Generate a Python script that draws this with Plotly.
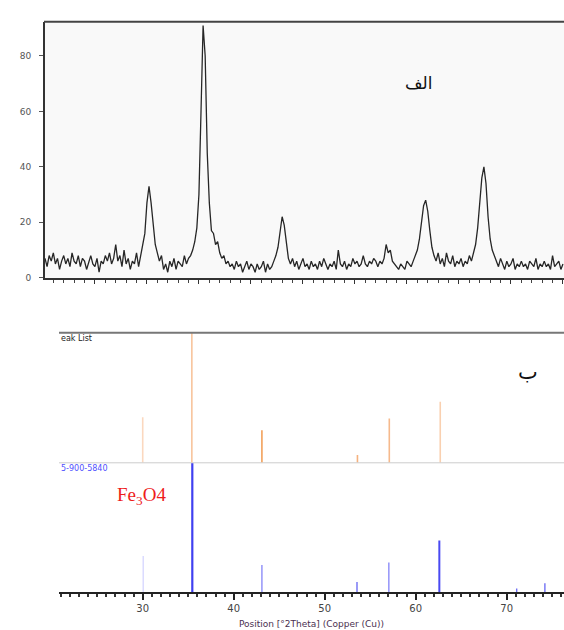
import plotly.graph_objects as go

# ---------------- data ----------------
# top panel: measured XRD pattern (2theta grid start/step, intensity read off the picture)
tt_start = 20.2
tt_step = 0.2
intensity = [
    7, 4, 8, 6, 9, 5, 7, 3, 6, 8,
    5, 7, 4, 9, 6, 5, 8, 4, 7, 6,
    3, 6, 8, 5, 4, 7, 2, 6, 5, 8,
    6, 9, 5, 7, 12, 6, 8, 4, 10, 5,
    7, 3, 6, 5, 9, 4, 8, 11, 16, 27,
    33, 27, 19, 12, 9, 6, 8, 3, 5, 2,
    6, 4, 7, 3, 6, 5, 4, 8, 5, 7,
    8, 10, 13, 18, 30, 60, 91, 80, 45, 27,
    17, 16, 12, 13, 9, 7, 8, 5, 6, 4,
    5, 3, 6, 4, 5, 2, 4, 6, 3, 5,
    4, 2, 5, 3, 4, 6, 2, 5, 3, 4,
    6, 8, 11, 16, 22, 19, 12, 7, 5, 7,
    4, 6, 3, 5, 7, 4, 5, 3, 6, 4,
    5, 3, 6, 4, 7, 5, 3, 5, 4, 6,
    3, 10, 5, 4, 6, 3, 5, 4, 7, 5,
    6, 4, 5, 8, 5, 4, 6, 5, 7, 6,
    4, 6, 5, 7, 12, 9, 10, 6, 5, 4,
    3, 5, 4, 3, 6, 5, 4, 6, 8, 10,
    14, 20, 26, 28, 24, 17, 11, 8, 6, 9,
    5, 7, 4, 9, 6, 5, 8, 4, 6, 5,
    7, 4, 6, 5, 8, 6, 9, 12, 18, 27,
    36, 40, 34, 22, 14, 10, 8, 6, 4, 7,
    5, 3, 6, 4, 5, 7, 3, 5, 4, 6,
    4, 5, 3, 6, 5, 4, 7, 3, 5, 4,
    6, 4, 5, 3, 8, 4, 5, 6, 3, 5,
]
two_theta = [round(tt_start + tt_step * i, 2) for i in range(len(intensity))]

top_yticks = [0, 20, 40, 60, 80]

# bottom panel: peak list (orange sticks)
peak_pos = [30.0, 35.4, 43.1, 53.6, 57.1, 62.7]
peak_rel = [35, 100, 25, 6, 34, 47]
peak_colors = ["#fbd8bf", "#f8c49c", "#f2a05a", "#f5b27f", "#f6b98c", "#f9d0b0"]

# bottom panel: reference pattern 96-900-5840 (Fe3O4, blue sticks)
ref_pos = [30.05, 35.45, 43.1, 53.55, 57.05, 62.6, 71.1, 74.2]
ref_rel = [28, 100, 21, 8, 23, 40, 3, 7]
ref_colors = ["#c8c8ff", "#4040f0", "#8c8cf8", "#7070f4", "#8c8cf8", "#4a4af2", "#7070f4", "#7070f4"]
ref_widths = [1, 2.2, 1.4, 1.4, 1.4, 2, 1.4, 1.4]

bottom_xticks = [30, 40, 50, 60, 70]

W, H = 564, 630

def px_x(p):
    return p / W

def px_y(p):
    return 1 - p / H

# panel edges in pixels
TOP_T, TOP_B = 22, 280
BOT_T, BOT_MID, BOT_B = 335.5, 466.5, 597

fig = go.Figure()

# top measured pattern
fig.add_trace(go.Scatter(x=two_theta, y=intensity, mode="lines",
                         line=dict(color="#262626", width=1.3),
                         xaxis="x", yaxis="y", showlegend=False, hoverinfo="skip"))

# peak list sticks
for p, h, c in zip(peak_pos, peak_rel, peak_colors):
    fig.add_trace(go.Scatter(x=[p, p], y=[0, h], mode="lines",
                             line=dict(color=c, width=1.6),
                             xaxis="x2", yaxis="y2", showlegend=False, hoverinfo="skip"))

# reference sticks
for p, h, c, w in zip(ref_pos, ref_rel, ref_colors, ref_widths):
    fig.add_trace(go.Scatter(x=[p, p], y=[0, h], mode="lines",
                             line=dict(color=c, width=w),
                             xaxis="x2", yaxis="y3", showlegend=False, hoverinfo="skip"))

tick_font = dict(family="DejaVu Sans", size=9, color="#555555")

fig.update_layout(
    width=W, height=H,
    margin=dict(l=0, r=0, t=0, b=0),
    paper_bgcolor="white",
    plot_bgcolor="rgba(0,0,0,0)",
    showlegend=False,
    xaxis=dict(domain=[px_x(45), 1], range=[20.2, 70.1], anchor="y",
               showline=True, linecolor="#333333", linewidth=2,
               ticks="outside", ticklen=4, tickcolor="#333333", dtick=5, tick0=0,
               minor=dict(ticks="outside", ticklen=3, dtick=1, tickcolor="#444444"),
               showticklabels=False, showgrid=False, zeroline=False),
    yaxis=dict(domain=[px_y(TOP_B), px_y(TOP_T)], range=[0, 92.3], anchor="x",
               showline=True, linecolor="#333333", linewidth=2,
               ticks="outside", ticklen=4, tickcolor="#555555",
               tickvals=top_yticks, tickfont=tick_font, ticklabelstandoff=6,
               showgrid=False, zeroline=False),
    xaxis2=dict(domain=[px_x(59), 1], range=[20.8, 76.3], anchor="y3",
                showline=True, linecolor="#222222", linewidth=2,
                ticks="outside", ticklen=6, tickcolor="#222222", tickwidth=1.5,
                tickvals=bottom_xticks,
                minor=dict(ticks="outside", ticklen=3, dtick=1, tickcolor="#333333"),
                tickfont=dict(family="DejaVu Sans", size=10, color="#444444"),
                title=dict(text="Position [°2Theta] (Copper (Cu))",
                           font=dict(family="DejaVu Sans", size=9, color="#4a3050"),
                           standoff=7),
                showgrid=False, zeroline=False),
    yaxis2=dict(domain=[px_y(BOT_MID), px_y(BOT_T)], range=[0, 100], anchor="x2",
                visible=False, showgrid=False, zeroline=False),
    yaxis3=dict(domain=[px_y(BOT_B), px_y(BOT_MID)], range=[0, 100], anchor="x2",
                visible=False, showgrid=False, zeroline=False),
)

shapes = [
    # light background of top panel
    dict(type="rect", xref="paper", yref="paper", x0=px_x(45), x1=1,
         y0=px_y(TOP_B), y1=px_y(TOP_T), fillcolor="#f9f9f9", line=dict(width=0), layer="below"),
    # top frame line of top panel
    dict(type="line", xref="paper", yref="paper", x0=px_x(44), x1=1,
         y0=px_y(TOP_T), y1=px_y(TOP_T), line=dict(color="#444444", width=2)),
    # top line of bottom panel
    dict(type="line", xref="paper", yref="paper", x0=px_x(59), x1=1,
         y0=px_y(BOT_T), y1=px_y(BOT_T), line=dict(color="#777777", width=2)),
    # divider
    dict(type="line", xref="paper", yref="paper", x0=px_x(59), x1=1,
         y0=px_y(BOT_MID), y1=px_y(BOT_MID), line=dict(color="#cccccc", width=1)),
]
fig.update_layout(shapes=shapes)

annotations = [
    dict(text="الف", x=px_x(435), y=px_y(72), xref="paper", yref="paper",
         showarrow=False, font=dict(family="DejaVu Sans", size=17, color="#111111")),
    dict(text="ب", x=px_x(540), y=px_y(375), xref="paper", yref="paper",
         showarrow=False, font=dict(family="DejaVu Sans", size=21, color="#111111")),
    dict(text="Fe<sub>3</sub>O4", x=px_x(115), y=px_y(500), xref="paper", yref="paper",
         xanchor="left", yanchor="middle",
         showarrow=False, font=dict(family="Liberation Serif", size=19, color="#ee1c1c")),
    dict(text="eak List", x=px_x(59), y=px_y(335), xref="paper", yref="paper",
         xanchor="left", yanchor="top", showarrow=False,
         font=dict(family="DejaVu Sans", size=8, color="#222222")),
    dict(text="5-900-5840", x=px_x(59), y=px_y(466), xref="paper", yref="paper",
         xanchor="left", yanchor="top", showarrow=False,
         font=dict(family="DejaVu Sans", size=8, color="#5050ff")),
]
fig.update_layout(annotations=annotations)

fig.write_html("out.html")
